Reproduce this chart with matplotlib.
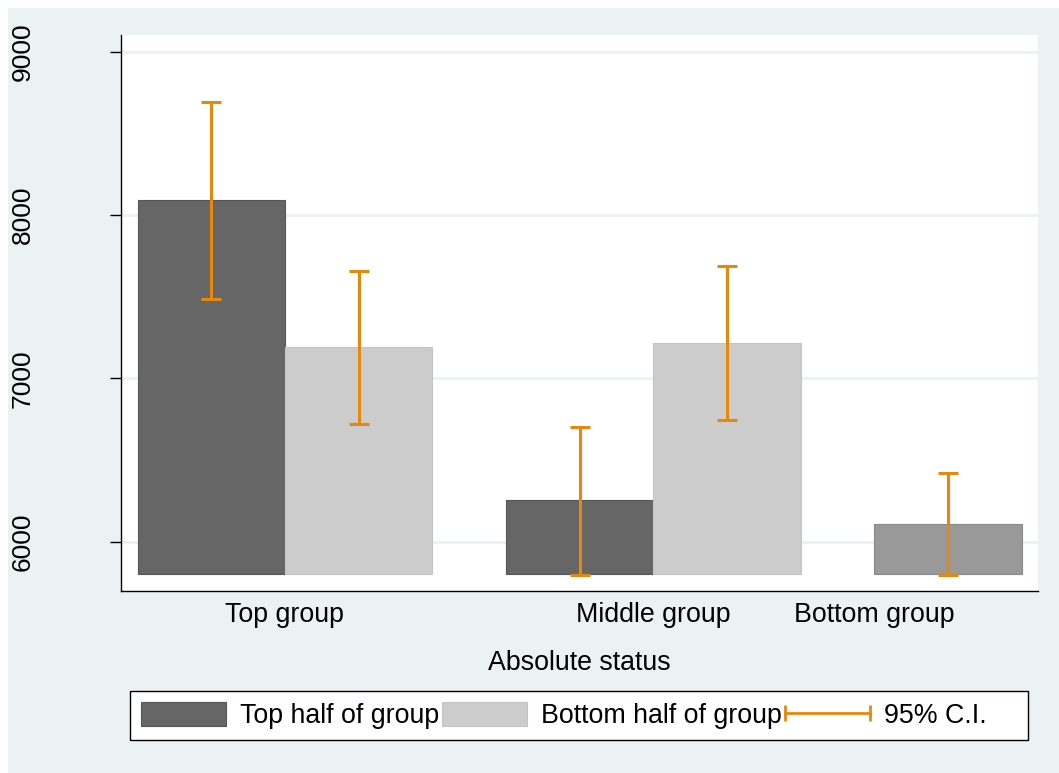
import matplotlib
matplotlib.use("Agg")
import matplotlib.pyplot as plt
from matplotlib.patches import Patch, Rectangle
from matplotlib.lines import Line2D
from matplotlib.legend_handler import HandlerLine2D

plt.rcParams['font.family'] = ['Liberation Sans', 'DejaVu Sans']

# ---- data ----
groups = ["Top group", "Middle group", "Bottom group"]
top_half = [8093, 6255]            # Top group, Middle group
top_half_lo = [7488, 5795]
top_half_hi = [8695, 6704]
bottom_half = [7193, 7217]
bottom_half_lo = [6724, 6745]
bottom_half_hi = [7657, 7691]
bottom_group = [6107]
bottom_group_lo = [5795]
bottom_group_hi = [6421]
base = 5800
yticks = [6000, 7000, 8000, 9000]
legend_labels = ["Top half of group", "Bottom half of group", "95% C.I."]

# ---- layout positions (bar units) ----
pos_top = [0.5, 3.0]
pos_bot = [1.5, 4.0]
pos_single = [5.5]
label_pos = [1.0, 3.5, 5.0]

c_dark = "#666666"
c_light = "#cccccc"
c_mid = "#999999"
c_ci = "#E8870E"
bg = "#EAF2F3"

fig = plt.figure(figsize=(10.59, 7.73), dpi=100, facecolor="white")
fig.patches.append(Rectangle((8/1059, 0), 1 - 8/1059, 1 - 8/773,
                             transform=fig.transFigure, facecolor=bg,
                             edgecolor="none", zorder=-10))
ax = fig.add_axes([121/1059, 1 - 591/773, (1038 - 121)/1059, (591 - 35)/773])
ax.set_facecolor("white")

def bars(pos, vals, color, edge):
    ax.bar(pos, [v - base for v in vals], bottom=base, width=1.0,
           color=color, edgecolor=edge, linewidth=0.8, zorder=2)

bars(pos_top, top_half, c_dark, "#555555")
bars(pos_bot, bottom_half, c_light, "#c4c4c4")
bars(pos_single, bottom_group, c_mid, "#888888")

def ci(pos, vals, lo, hi):
    yerr = [[v - l for v, l in zip(vals, lo)], [h - v for v, h in zip(vals, hi)]]
    ax.errorbar(pos, vals, yerr=yerr, fmt="none", ecolor=c_ci,
                elinewidth=2.2, capsize=7, capthick=2.2, zorder=3)

ci(pos_top, top_half, top_half_lo, top_half_hi)
ci(pos_bot, bottom_half, bottom_half_lo, bottom_half_hi)
ci(pos_single, bottom_group, bottom_group_lo, bottom_group_hi)

ax.set_xlim(-0.113, 6.112)
ax.set_ylim(5698, 9104)
ax.set_yticks(yticks)
ax.set_yticklabels([str(t) for t in yticks], rotation=90, va="center",
                   fontsize=19)
ax.tick_params(axis="y", length=8, width=1, pad=54)
ax.set_xticks(label_pos)
ax.set_xticklabels(groups, fontsize=19.3)
ax.tick_params(axis="x", length=0, pad=8)
ax.grid(axis="y", color=bg, linewidth=2, zorder=0)
ax.set_axisbelow(True)
for s in ["top", "right"]:
    ax.spines[s].set_visible(False)
for s in ["left", "bottom"]:
    ax.spines[s].set_linewidth(1)
ax.set_xlabel("Absolute status", fontsize=19.3, labelpad=16)

# ---- legend ----
fig.patches.append(Rectangle((130/1059, 1 - 740/773), (1028 - 130)/1059,
                             (740 - 691)/773, transform=fig.transFigure,
                             facecolor="white", edgecolor="black",
                             linewidth=1, zorder=5))
handles = [Patch(facecolor=c_dark, edgecolor="#555555", linewidth=0.8),
           Patch(facecolor=c_light, edgecolor="#c4c4c4", linewidth=0.8),
           Line2D([], [], color=c_ci, lw=2, marker="|", markersize=11,
                  markeredgewidth=2)]
leg = fig.legend(handles, legend_labels, loc="center left",
                 bbox_to_anchor=(141/1059, 1 - 715.5/773), ncol=3,
                 frameon=False, fontsize=19.3, handlelength=3.17,
                 handleheight=1.0, handletextpad=0.52, columnspacing=0.11,
                 borderpad=0, borderaxespad=0, numpoints=2,
                 handler_map={Line2D: HandlerLine2D(marker_pad=0.0, numpoints=2)})
leg.set_zorder(6)

fig.savefig("out.png", dpi=100, facecolor=fig.get_facecolor())
